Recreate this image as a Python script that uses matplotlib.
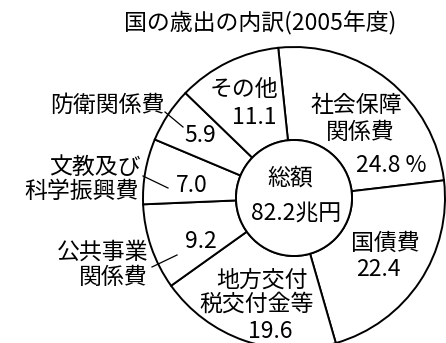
import matplotlib
matplotlib.use("Agg")
import matplotlib.pyplot as plt
from matplotlib.patches import Circle

plt.rcParams['font.family'] = ['Noto Sans CJK JP', 'DejaVu Sans']

# Data
categories = ["社会保障関係費", "国債費", "地方交付税交付金等", "公共事業関係費",
              "文教及び科学振興費", "防衛関係費", "その他"]
values = [24.8, 22.4, 19.6, 9.2, 7.0, 5.9, 11.1]
value_labels = ["24.8 %", "22.4", "19.6", "9.2", "7.0", "5.9", "11.1"]
title = "国の歳出の内訳(2005年度)"
center_labels = ["総額", "82.2兆円"]

W, H = 446, 343
fig = plt.figure(figsize=(W / 100, H / 100), dpi=100)
ax = fig.add_axes([0, 0, 1, 1])


def Y(y):
    return H - y


cx, cy, R, r = 294, Y(198), 151, 58
LW = 1.4
ax.pie(values, startangle=96, counterclock=False, center=(cx, cy), radius=R,
       colors=["white"] * len(values),
       wedgeprops=dict(edgecolor="black", linewidth=LW, width=R - r))
ax.set_xlim(0, W)
ax.set_ylim(0, H)
ax.set_aspect('equal')
ax.axis('off')
ax.add_patch(Circle((cx, cy), r, facecolor="white", edgecolor="black", linewidth=LW, zorder=3))

FS = 16.5
kw = dict(fontsize=FS, color="black")

# title
ax.text(260, Y(23), title, ha="center", va="center", fontsize=16.5)

# center
ax.text(290, Y(178), center_labels[0], ha="center", va="center", zorder=4, **kw)
ax.text(296, Y(213), center_labels[1], ha="center", va="center", zorder=4, **kw)

# 社会保障関係費
ax.text(402, Y(105), "社会保障", ha="right", va="center", **kw)
ax.text(395, Y(132), "関係費", ha="right", va="center", **kw)
ax.text(391, Y(165), value_labels[0], ha="center", va="center", **kw)

# 国債費
ax.text(385, Y(243), "国債費", ha="center", va="center", **kw)
ax.text(378, Y(270), value_labels[1], ha="center", va="center", **kw)

# 地方交付税交付金等
ax.text(262, Y(280), "地方交付", ha="center", va="center", **kw)
ax.text(257, Y(304), "税交付金等", ha="center", va="center", **kw)
ax.text(270, Y(331), value_labels[2], ha="center", va="center", **kw)

# 公共事業関係費
ax.text(148, Y(252), "公共事業", ha="right", va="center", **kw)
ax.text(148, Y(277), "関係費", ha="right", va="center", **kw)
ax.text(201, Y(241), value_labels[3], ha="center", va="center", **kw)
ax.plot([152, 177], [Y(267), Y(255)], color="black", lw=0.9)

# 文教及び科学振興費
ax.text(141, Y(167), "文教及び", ha="right", va="center", **kw)
ax.text(139, Y(191), "科学振興費", ha="right", va="center", **kw)
ax.text(192, Y(185), value_labels[4], ha="center", va="center", **kw)
ax.plot([143, 168], [Y(176), Y(188)], color="black", lw=0.9)

# 防衛関係費
ax.text(164, Y(105), "防衛関係費", ha="right", va="center", **kw)
ax.text(200, Y(136), value_labels[5], ha="center", va="center", **kw)
ax.plot([165, 183], [Y(112), Y(127)], color="black", lw=0.9)

# その他
ax.text(278, Y(90), "その他", ha="right", va="center", **kw)
ax.text(277, Y(117), value_labels[6], ha="right", va="center", **kw)

fig.savefig("out.png", dpi=100, facecolor="white")
